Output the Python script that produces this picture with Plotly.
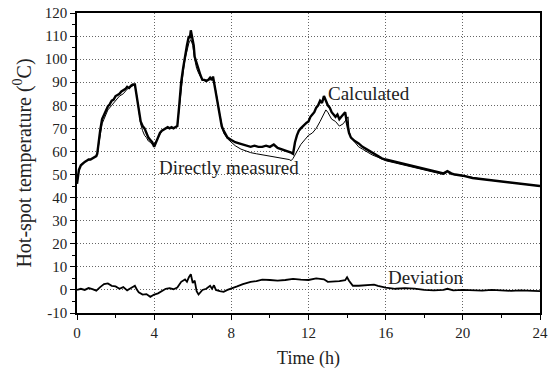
import plotly.graph_objects as go

# Calculated hot-spot temperature (thick curve)
calc_t = [0, 0.05, 0.1, 0.2, 0.3, 0.4, 0.5, 0.6, 0.7, 0.8, 0.9, 1.0, 1.05, 1.1, 1.2, 1.3, 1.4, 1.5, 1.6, 1.7, 1.8,
          1.9, 2.0, 2.1, 2.2, 2.3, 2.4, 2.5, 2.6, 2.7, 2.8, 2.9, 3.0, 3.1, 3.2, 3.3, 3.4, 3.5, 3.6, 3.7, 3.8, 3.9,
          4.0, 4.1, 4.2, 4.3, 4.4, 4.5, 4.6, 4.7, 4.8, 4.9, 5.0, 5.1, 5.2, 5.3, 5.4, 5.5, 5.6, 5.7, 5.8, 5.85, 5.9,
          5.95, 6.0, 6.05, 6.1, 6.2, 6.3, 6.4, 6.5, 6.6, 6.7, 6.8, 6.9, 7.0, 7.05, 7.1, 7.2, 7.3, 7.4, 7.5, 7.6,
          7.8, 8.0, 8.2, 8.4, 8.6, 8.8, 9.0, 9.2, 9.4, 9.6, 9.8, 10.0, 10.2, 10.4, 10.6, 10.8, 11.0, 11.1, 11.2,
          11.3, 11.4, 11.5, 11.6, 11.7, 11.8, 11.9, 12.0, 12.1, 12.2, 12.3, 12.4, 12.5, 12.6, 12.7, 12.8, 12.9,
          13.0, 13.1, 13.2, 13.3, 13.4, 13.5, 13.6, 13.7, 13.8, 13.9, 14.0, 14.1, 14.2, 14.3, 14.4, 14.6, 14.8,
          15.0, 15.2, 15.4, 15.6, 15.8, 16.0, 16.5, 17.0, 17.5, 18.0, 18.5, 19.0, 19.2, 19.4, 19.6, 20.0, 20.5,
          21.0, 21.5, 22.0, 22.5, 23.0, 23.5, 24.0]
calc_v = [46, 50, 52, 54, 55, 55.5, 56, 56.5, 56.5, 57, 57.5, 58, 59, 63, 69, 74, 76, 78, 79.5, 80.5, 82,
          82.5, 84, 84.5, 85, 86, 86.5, 87, 88, 87.5, 88.5, 89, 89, 84, 78, 73, 71, 70, 68, 66, 65, 64,
          62, 64, 66, 68, 69, 69.5, 70, 70.5, 70, 70.5, 70, 70.5, 71, 80, 90, 96, 102, 106, 110, 109, 112.5,
          110, 108, 106, 101, 98, 95, 93, 91, 91, 90.5, 91, 92, 91, 92.5, 90, 86, 80, 75, 71, 69,
          66, 65, 64, 63.5, 63, 62.5, 62, 62.5, 62, 62, 62.5, 62, 63, 61.5, 61, 60.5, 60, 59.5, 59,
          64, 67, 69, 70, 71, 72, 72.5, 73, 75, 76, 77, 79, 80, 82, 81, 84, 82,
          80, 79, 77, 76, 75, 76, 74, 75, 76, 77, 72, 68, 66, 65, 64.5, 63.5, 62,
          61, 60, 59, 58, 57, 56.5, 55.5, 54.5, 53.5, 52.5, 51.5, 50.5, 51.5, 50.5, 50, 49.5, 48.5,
          48, 47.5, 47, 46.5, 46, 45.5, 45]

# Directly measured hot-spot temperature (thin curve)
meas_t = [0, 0.05, 0.1, 0.2, 0.3, 0.5, 0.7, 0.9, 1.0, 1.05, 1.1, 1.2, 1.3, 1.4, 1.5, 1.6, 1.8, 2.0, 2.2,
          2.4, 2.6, 2.8, 3.0, 3.1, 3.2, 3.3, 3.4, 3.5, 3.6, 3.7, 3.8, 3.9, 4.0, 4.1, 4.2, 4.4, 4.6, 4.8, 5.0,
          5.2, 5.3, 5.4, 5.5, 5.6, 5.7, 5.8, 5.9, 6.0, 6.1, 6.2, 6.3, 6.5, 6.7, 6.9, 7.0, 7.1, 7.2, 7.3, 7.4,
          7.5, 7.6, 7.8, 8.0, 8.2, 8.5, 8.8, 9.0, 9.3, 9.6, 10.0, 10.3, 10.6, 11.0, 11.1, 11.2, 11.4, 11.6,
          11.8, 12.0, 12.2, 12.4, 12.6, 12.8, 12.9, 13.0, 13.2, 13.4, 13.6, 13.8, 14.0, 14.05, 14.1, 14.2, 14.4,
          14.6, 14.8, 15.0, 15.3, 15.6, 16.0, 16.5, 17.0, 17.5, 18.0, 18.5, 19.0, 19.2, 19.4, 20.0, 21.0,
          22.0, 23.0, 24.0]
meas_v = [46, 50, 52, 54, 55, 56, 56.5, 57.5, 58, 59, 62, 68, 72, 74, 76, 78, 80, 82, 84,
          85, 87, 88, 89, 84, 77, 72, 69, 67, 66, 64.5, 64, 63, 63, 64.5, 66, 69, 70, 70, 70,
          71, 79, 88, 94, 100, 104, 107, 108.5, 106, 100, 96, 94, 91, 91, 91, 91.5, 90, 86, 80, 76,
          72, 68, 65.5, 64, 62.5, 61, 60, 59.5, 59, 58.5, 58, 57.5, 57, 56.5, 56, 57, 60, 63,
          65, 67, 68, 70, 73, 76, 78, 77, 74, 73, 71, 72, 74, 75, 69, 66, 64,
          62, 61, 60, 58.5, 57.5, 56, 55, 54, 53, 52, 51, 50, 51, 50, 49.5, 48,
          47, 46, 45]

# Deviation
dev_t = [0, 0.2, 0.4, 0.6, 0.8, 1.0, 1.2, 1.4, 1.6, 1.8, 2.0, 2.2, 2.4, 2.6, 2.8, 3.0, 3.1, 3.2, 3.4, 3.6,
         3.8, 4.0, 4.2, 4.4, 4.6, 4.8, 5.0, 5.2, 5.3, 5.4, 5.6, 5.7, 5.8, 5.9, 6.0, 6.1, 6.2, 6.3, 6.5, 6.7,
         6.9, 7.0, 7.1, 7.2, 7.4, 7.6, 7.8, 8.0, 8.3, 8.6, 9.0, 9.3, 9.6, 10.0, 10.4, 10.8, 11.2, 11.6, 12.0,
         12.4, 12.8, 13.0, 13.3, 13.6, 13.9, 14.0, 14.1, 14.3, 14.6, 15.0, 15.4, 15.6, 16.0, 16.5, 17.0, 17.5,
         18.0, 18.5, 19.0, 19.2, 19.5, 20.0, 20.5, 21.0, 21.5, 22.0, 22.5, 23.0, 23.5, 24.0]
dev_v = [0, 0.5, 0, 0.8, 0.3, -0.3, 1.2, 2.5, 2.8, 1.8, 1.5, 0.5, 1.2, -0.2, 0.8, 1.8, 0.2, -1, -2, -1.8,
         -3, -2, -1.5, -0.5, 0.5, 0.8, 0.3, 1, 2, 3.5, 4.5, 3.5, 5.5, 6.8, 3, 4, -0.5, -2, 0, 0.5,
         1.8, 0.5, 2, 0, -0.5, -0.8, 0, 0.5, 1.5, 2.5, 3.5, 3.8, 4.5, 4.3, 4.0, 4.3, 4.8, 4.5, 4.3,
         5.0, 4.6, 3.5, 3.6, 3.8, 4.2, 5.5, 4.0, 1.8, 1.8, 2.0, 2.3, 1.8, 1.0, 0.5, 0.8, 0.6,
         0, -0.2, 0, 0.5, -0.2, 0, -0.2, -0.3, 0, -0.3, -0.4, -0.2, -0.4, -0.5]

x_ticks = [0, 4, 8, 12, 16, 20, 24]
y_ticks = list(range(-10, 121, 10))

font_family = "Liberation Serif"

fig = go.Figure()
fig.add_trace(go.Scatter(x=meas_t, y=meas_v, mode="lines", line=dict(color="black", width=1), name="Directly measured"))
fig.add_trace(go.Scatter(x=calc_t, y=calc_v, mode="lines", line=dict(color="black", width=2.4), name="Calculated"))
fig.add_trace(go.Scatter(x=dev_t, y=dev_v, mode="lines", line=dict(color="black", width=1.8), name="Deviation"))

labels = [("Calculated", 15.15, 85), ("Directly measured", 7.9, 53), ("Deviation", 18.05, 5.6)]
for txt, xx, yy in labels:
    fig.add_annotation(x=xx, y=yy, text=txt, showarrow=False,
                       font=dict(family=font_family, size=19, color="#222"))

axis_common = dict(showline=True, linecolor="black", linewidth=1.5, mirror=True,
                   ticks="outside", tickcolor="black", tickwidth=1.2, ticklen=5,
                   showgrid=True, gridcolor="#666", griddash="1px,2px", gridwidth=1,
                   zeroline=False, automargin=False, ticklabeloverflow="allow",
                   tickfont=dict(family=font_family, size=15, color="#222"))

fig.update_xaxes(range=[0, 24], tickvals=x_ticks, ticktext=[str(v) for v in x_ticks],
                 minor=dict(dtick=2, tick0=0, ticks="outside", ticklen=3, tickcolor="black", showgrid=False),
                 title=dict(text="Time (h)", font=dict(family=font_family, size=18, color="#222"), standoff=12),
                 **axis_common)
fig.update_yaxes(range=[-10, 120], tickvals=y_ticks, ticktext=[str(v) for v in y_ticks],
                 minor=dict(dtick=5, tick0=0, ticks="outside", ticklen=3, tickcolor="black", showgrid=False),
                 title=dict(text="Hot-spot temperature (<sup>0</sup>C)", font=dict(family=font_family, size=20, color="#222"), standoff=8),
                 **axis_common)

fig.update_layout(width=553, height=369, margin=dict(l=77, r=13, t=13, b=56),
                  plot_bgcolor="white", paper_bgcolor="white", showlegend=False,
                  font=dict(family=font_family))

# remove the page's default 8px body margin so the figure fills the window exactly
fig.write_html("out.html", config={"displayModeBar": False},
               post_script="document.body.style.margin='0px';")
